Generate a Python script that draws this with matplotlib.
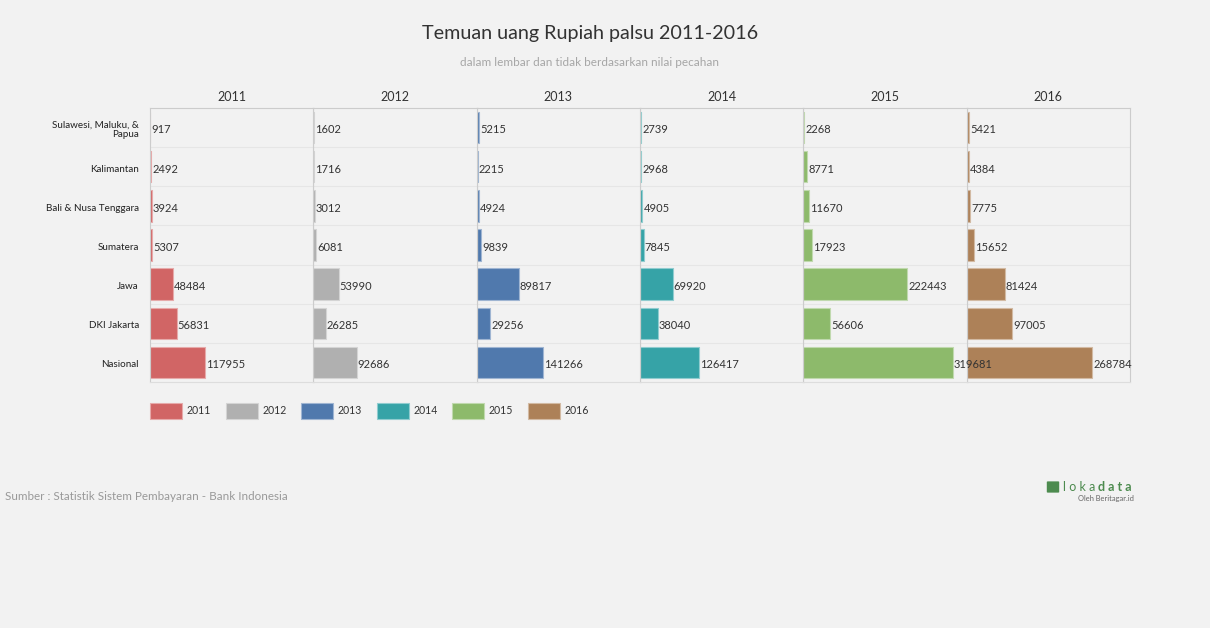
import matplotlib.pyplot as plt
from matplotlib.patches import Rectangle, FancyBboxPatch
from matplotlib.colors import to_rgb

plt.rcParams['font.family'] = ['Lato', 'DejaVu Sans']

# data
regions = ['Sulawesi, Maluku, &\nPapua', 'Kalimantan', 'Bali & Nusa Tenggara', 'Sumatera',
           'Jawa', 'DKI Jakarta', 'Nasional']
years = ['2011', '2012', '2013', '2014', '2015', '2016']
v2011 = [917, 2492, 3924, 5307, 48484, 56831, 117955]
v2012 = [1602, 1716, 3012, 6081, 53990, 26285, 92686]
v2013 = [5215, 2215, 4924, 9839, 89817, 29256, 141266]
v2014 = [2739, 2968, 4905, 7845, 69920, 38040, 126417]
v2015 = [2268, 8771, 11670, 17923, 222443, 56606, 319681]
v2016 = [5421, 4384, 7775, 15652, 81424, 97005, 268784]
values = [v2011, v2012, v2013, v2014, v2015, v2016]
colors = ['#d16565', '#b0b0b0', '#5079ad', '#36a3a7', '#8dba6b', '#ad8158']

BG = '#f2f2f2'
W, H = 1210, 628
fig = plt.figure(figsize=(W / 100, H / 100), dpi=100, facecolor=BG)

def fx(px):
    return px / W

def fy(py):
    return 1 - py / H

def tint(c, f=0.45):
    r, g, b = to_rgb(c)
    return (r + (1 - r) * f, g + (1 - g) * f, b + (1 - b) * f)

left, right, top, bottom = 150, 1130, 108, 382
pw = (right - left) / len(years)
xmax = 350000
n = len(regions)

for i, (yr, vals, col) in enumerate(zip(years, values, colors)):
    ax = fig.add_axes([fx(left + i * pw), fy(bottom), fx(pw), (bottom - top) / H])
    ax.set_facecolor(BG)
    ax.set_zorder(10 - i)
    ypos = list(range(n))
    ax.barh(ypos, vals, height=0.8, color=col, edgecolor=tint(col), linewidth=0.8)
    for y, v in zip(ypos, vals):
        ax.text(v + xmax * 0.007, y + 0.06, str(v), va='center', ha='left', fontsize=8,
                color='#333333', clip_on=False, zorder=20)
    ax.set_xlim(0, xmax)
    ax.set_ylim(n - 0.5, -0.5)
    for k in range(1, n):
        ax.axhline(k - 0.5, color='#e6e6e6', lw=0.8, zorder=0)
    ax.set_xticks([])
    ax.set_yticks([])
    for s in ax.spines.values():
        s.set_color('#cccccc')
        s.set_linewidth(0.8)
    ax.spines['bottom'].set_color('#dddddd')
    ax.set_title(yr, fontsize=9, color='#333333', pad=5)
    if i == 0:
        ax.set_yticks([p + 0.04 for p in ypos])
        ax.set_yticklabels(regions, fontsize=7.1, color='#222222', linespacing=1.0)
        ax.tick_params(axis='y', length=0, pad=8)

fig.text(fx(590), fy(33), 'Temuan uang Rupiah palsu 2011-2016', ha='center', va='center',
         fontsize=14.2, color='#333333')
fig.text(fx(590), fy(62), 'dalam lembar dan tidak berdasarkan nilai pecahan', ha='center', va='center',
         fontsize=8.5, color='#a6a6a6')

# legend
lx = 150
for yr, col in zip(years, colors):
    fig.patches.append(Rectangle((fx(lx), fy(419)), fx(32), 16 / H, transform=fig.transFigure,
                                 facecolor=col, edgecolor=tint(col), lw=0.8))
    fig.text(fx(lx + 37), fy(411), yr, va='center', ha='left', fontsize=7.6, color='#333333')
    lx += 75.5

fig.text(fx(5), fy(497), 'Sumber : Statistik Sistem Pembayaran - Bank Indonesia', va='center',
         ha='left', fontsize=8.4, color='#999999')

# logo
fig.patches.append(FancyBboxPatch((fx(1048), fy(492)), fx(10), 10 / H, boxstyle='round,pad=0.001',
                                  transform=fig.transFigure, facecolor='#4d8b4f', edgecolor='none'))
fig.text(fx(1063), fy(487), 'l o k a', va='center', ha='left', fontsize=9, color='#4d8b4f')
fig.text(fx(1098), fy(487), 'd a t a', va='center', ha='left', fontsize=9, color='#4d8b4f',
         fontweight='bold')
fig.text(fx(1134), fy(498), 'Oleh Beritagar.id', va='center', ha='right', fontsize=5.4, color='#666666')

fig.savefig('out.png', dpi=100, facecolor=BG)
